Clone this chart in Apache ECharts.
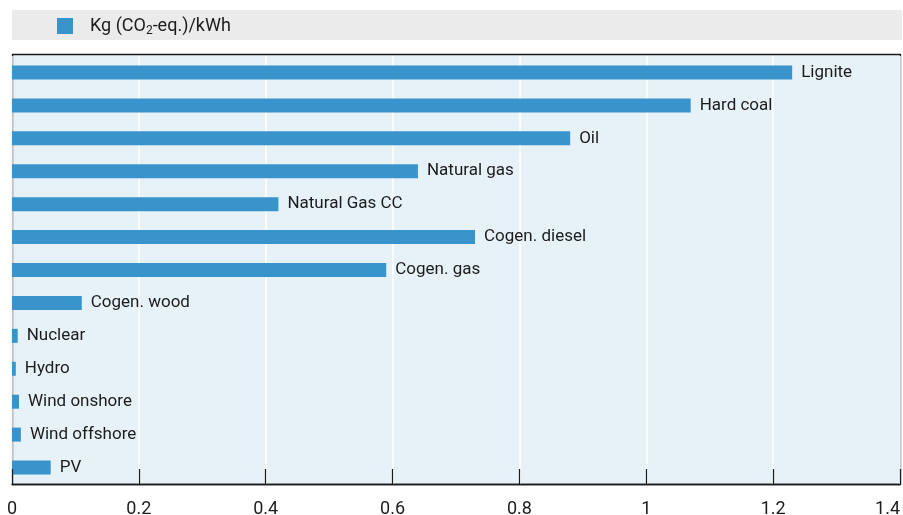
<!DOCTYPE html>
<html><head><meta charset="utf-8">
<script src="https://cdn.jsdelivr.net/npm/echarts@6/dist/echarts.min.js"></script>
<style>html,body{margin:0;padding:0;background:#fff}#c{width:903px;height:515px}</style>
</head><body><div id="c"></div>
<script>
const categories = ['Lignite','Hard coal','Oil','Natural gas','Natural Gas CC','Cogen. diesel','Cogen. gas','Cogen. wood','Nuclear','Hydro','Wind onshore','Wind offshore','PV'];
const values = [1.23, 1.07, 0.88, 0.64, 0.42, 0.73, 0.59, 0.11, 0.009, 0.006, 0.011, 0.014, 0.061];
const seriesName = 'Kg (CO2-eq.)/kWh';
const xTicks = [0, 0.2, 0.4, 0.6, 0.8, 1, 1.2, 1.4];

const FONT = 'Roboto';
const TXT = '#1c1c1c';
const chart = echarts.init(document.getElementById('c'), null, {renderer:'canvas'});
const tickFmt = v => { const t = xTicks.find(x => Math.abs(x - v) < 1e-9); return String(t !== undefined ? t : v); };
chart.setOption({
  animation:false,
  backgroundColor:'#fff',
  graphic:[
    {type:'rect', shape:{x:12,y:10,width:890,height:30}, style:{fill:'#ebebeb'}, z:-10},
    {type:'rect', shape:{x:12.5,y:54.5,width:888,height:430}, style:{fill:'#e6f1f8',stroke:'#1a1a1a',lineWidth:1.3}, z:-10}
  ],
  legend:{
    left:57, top:17, padding:0, itemWidth:16, itemHeight:16, icon:'rect',
    data:[seriesName],
    formatter: () => '{a|Kg (CO}{s|2}{a|-eq.)/kWh}',
    textStyle:{padding:[0,0,0,12], rich:{
      a:{fontFamily:FONT,fontSize:18,color:TXT},
      s:{fontFamily:FONT,fontSize:12,color:TXT,padding:[9,0,0,0]}
    }}
  },
  grid:{left:12,right:3,top:56,bottom:31,show:false,containLabel:false,outerBoundsMode:'none'},
  xAxis:[{
    type:'value', min:0, max:1.4, interval:0.2,
    axisLine:{show:true,lineStyle:{color:'#1a1a1a',width:1.3}},
    axisTick:{show:false},
    splitLine:{show:true,lineStyle:{color:'#ffffff',width:1.5}},
    axisLabel:{fontFamily:FONT,fontSize:18,color:TXT,margin:16,alignMaxLabel:'right',formatter:tickFmt}
  },{
    type:'value', min:0, max:1.4, interval:0.2, position:'bottom', z:5,
    axisLine:{show:false},
    axisTick:{show:true,inside:true,length:15,lineStyle:{color:'#1a1a1a',width:1.2}},
    splitLine:{show:false},
    axisLabel:{show:false}
  }],
  yAxis:{
    type:'category', data:categories, inverse:true,
    axisLine:{show:false}, axisTick:{show:false}, axisLabel:{show:false}, splitLine:{show:false}
  },
  series:[{
    name:seriesName, type:'bar', data:values, barWidth:14, xAxisIndex:0,
    itemStyle:{color:'#3894ca'},
    label:{show:true,position:'right',distance:9,fontFamily:FONT,fontSize:17,color:TXT,
      formatter:p=>categories[p.dataIndex]}
  }]
});
</script></body></html>
